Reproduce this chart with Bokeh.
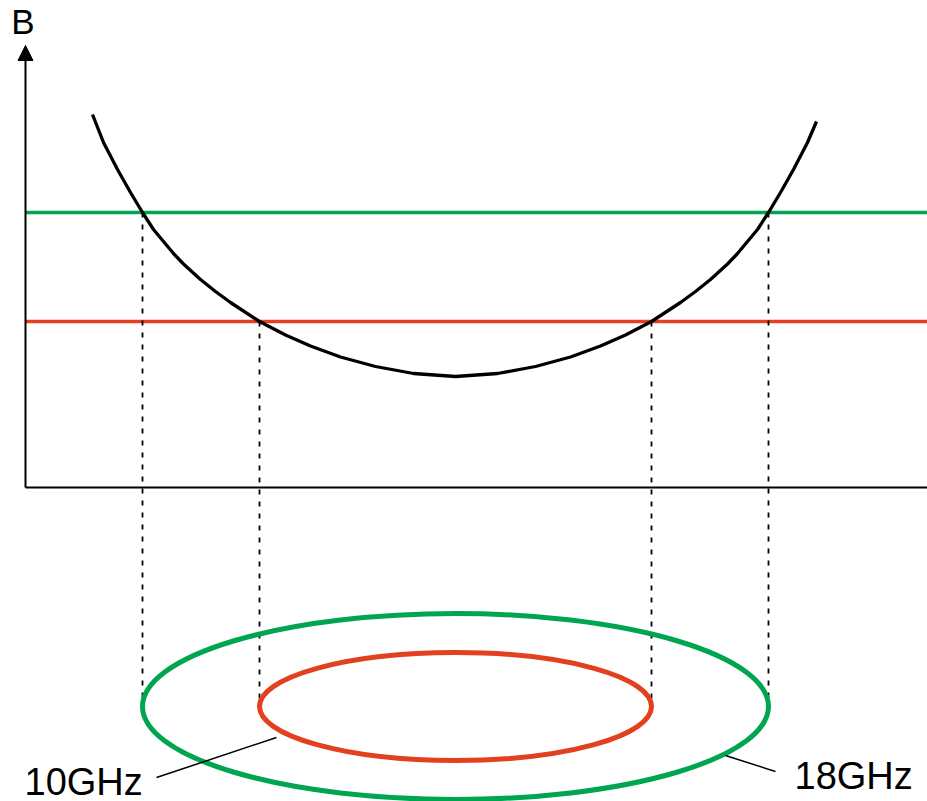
from bokeh.plotting import figure
from bokeh.models import Range1d, Arrow, NormalHead
from bokeh.embed import file_html
from bokeh.resources import INLINE
from bokeh.core.properties import value

# ---- data (position along the axis, field strength B; arbitrary units) ----
curve_pos = [67, 78, 92, 105, 117, 128, 148, 158, 175, 190, 205, 234, 260, 285, 315, 350, 388,
             430, 472, 510, 545, 575, 600, 626, 655, 670, 685, 702, 712, 732, 743, 755, 768, 782, 791]
curve_B = [373, 345, 318, 295, 275, 258, 234, 223.5, 208, 196, 185, 166, 152.5, 141.5, 130.5, 121, 114,
           111, 114, 121, 130.5, 141.5, 152.5, 166, 185, 196, 208, 223.5, 234, 258, 275, 295, 318, 345, 366]

level_names = ["18GHz", "10GHz"]
level_B = [275, 166]
level_colors = ["#00A54F", "#E2401F"]
res_pos_18 = [117, 743]
res_pos_10 = [234, 626]

ellipse_center_pos = 430
ellipse_center_B = -219
ellipse_w = [626, 392]
ellipse_h = [186, 108]

axis_end_pos = 902
axis_top_B = 442

label_text = ["10GHz", "18GHz"]
label_pos = [-1, 769]
label_B = [-294, -288]
leader_x0 = [131, 700]
leader_y0 = [-290, -268]
leader_x1 = [251, 750]
leader_y1 = [-250, -284]

font = value("Liberation Sans")

p = figure(width=927, height=801, x_range=Range1d(-25, 902), y_range=Range1d(-314, 487),
           output_backend="svg", toolbar_location=None, min_border=0)
p.axis.visible = False
p.grid.visible = False
p.outline_line_color = None

# axes
p.segment(x0=[0], y0=[0], x1=[axis_end_pos], y1=[0], line_color="black", line_width=2)
p.add_layout(Arrow(end=NormalHead(size=15, fill_color="black", line_color="black"),
                   x_start=0, y_start=0, x_end=0, y_end=axis_top_B,
                   line_color="black", line_width=2))
p.text(x=[-2.5], y=[466], text=["B"], text_font=font, text_font_size="35px",
       text_align="center", text_baseline="alphabetic", text_color="black")

# resonance levels
for b, c in zip(level_B, level_colors):
    p.segment(x0=[0], y0=[b], x1=[axis_end_pos], y1=[b], line_color=c, line_width=3.5)

# dashed projections
p.segment(x0=res_pos_18, y0=[level_B[0]] * 2, x1=res_pos_18, y1=[ellipse_center_B] * 2,
          line_color="black", line_width=1.8, line_dash="5 7")
p.segment(x0=res_pos_10, y0=[level_B[1]] * 2, x1=res_pos_10, y1=[ellipse_center_B] * 2,
          line_color="black", line_width=1.8, line_dash="5 7")

# B curve
p.line(curve_pos, curve_B, line_color="black", line_width=3.3, line_join="round")

# ellipses (resonance zones)
for w, h, c in zip(ellipse_w, ellipse_h, level_colors):
    p.ellipse(x=[ellipse_center_pos], y=[ellipse_center_B], width=[w], height=[h],
              fill_alpha=0, line_color=c, line_width=5)

# labels with leader lines
p.segment(x0=leader_x0, y0=leader_y0, x1=leader_x1, y1=leader_y1, line_color="black", line_width=1.5)
p.text(x=label_pos, y=label_B, text=label_text, text_font=font, text_font_size="38px",
       text_align="left", text_baseline="alphabetic", text_color="black")

open("out.html", "w").write(file_html(p, INLINE))
